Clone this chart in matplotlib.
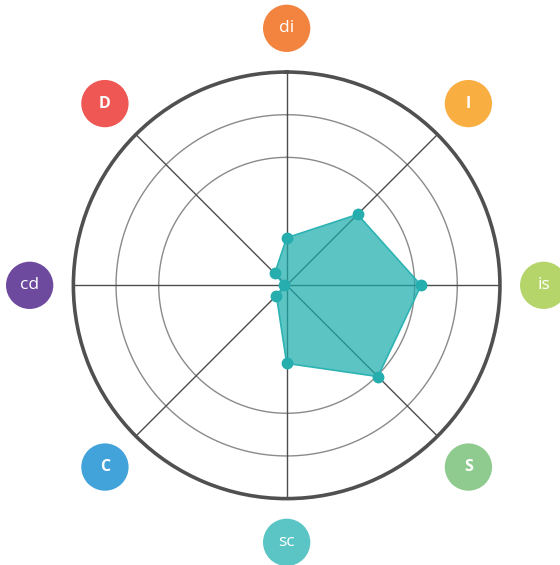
import numpy as np
import matplotlib
matplotlib.use("Agg")
import matplotlib.pyplot as plt

categories = ["di", "I", "is", "S", "sc", "C", "cd", "D"]
values = [22.3, 47, 63, 60.5, 36.6, 6.8, 1.1, 7.9]
label_colors = ["#F3843F", "#F9AE42", "#B5D56A", "#8FCB8F", "#5BC4C4", "#42A2DA", "#6E4A9E", "#EE5753"]
label_bold = [False, True, False, True, False, True, False, True]
ring_levels = [60, 80]
r_max = 100

fig = plt.figure(figsize=(5.6, 5.65), dpi=100)
fig.patch.set_facecolor("white")
ax = fig.add_axes([0.131, 0.1175, 0.7618, 0.755], projection="polar")
ax.set_theta_zero_location("N")
ax.set_theta_direction(-1)
ax.set_ylim(0, r_max)

n = len(categories)
angles = np.linspace(0, 2 * np.pi, n, endpoint=False)

# grid
ax.grid(False)
ax.set_xticks([])
ax.set_yticks([])
full = np.linspace(0, 2 * np.pi, 400)
for lv in ring_levels:
    ax.plot(full, np.full_like(full, lv), color="#8a8a8a", lw=1.0, zorder=1)
for a in angles:
    ax.plot([a, a], [0, r_max], color="#4d4d4d", lw=1.0, zorder=1)
ax.spines["polar"].set_color("#505050")
ax.spines["polar"].set_linewidth(2.6)

# data polygon
a_closed = np.concatenate([angles, angles[:1]])
v_closed = np.concatenate([values, values[:1]])
ax.fill(a_closed, v_closed, color="#19ABAB", alpha=0.7, lw=0, zorder=2)
ax.plot(a_closed, v_closed, color="#2DB3B3", lw=1.2, zorder=3)
ax.plot(angles, values, "o", color="#26AEAE", ms=7.5, zorder=4)

# category labels in coloured circles
label_r = 120.5
ax.scatter(angles, np.full(n, label_r), s=1160, c=label_colors, clip_on=False, zorder=5, linewidths=0)
for a, cat, bold in zip(angles, categories, label_bold):
    ax.text(a, label_r, cat, ha="center", va="center", color="white",
            fontsize=11.5 if bold else 12.5, fontweight="bold" if bold else "normal",
            family=["Open Sans", "DejaVu Sans"], clip_on=False, zorder=6)

fig.savefig("out.png", dpi=100, facecolor="white")
